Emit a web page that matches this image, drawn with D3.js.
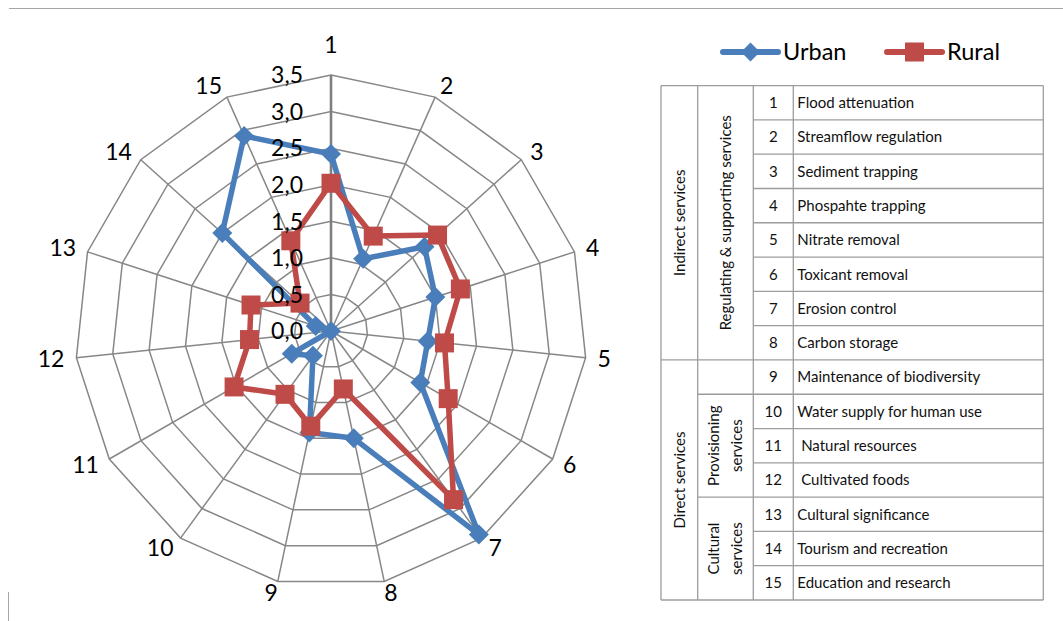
<!DOCTYPE html>
<html>
<head>
<meta charset="utf-8">
<script src="https://cdn.jsdelivr.net/npm/d3@7"></script>
<style>
  html, body { margin: 0; padding: 0; background: #fff; }
  svg { display: block; font-family: Lato, "Open Sans", "DejaVu Sans", sans-serif; }
</style>
</head>
<body>
<svg id="chart" width="1063" height="621"></svg>
<script>
// Ecosystem service numbers (spokes of the radar)
const categories = ["1","2","3","4","5","6","7","8","9","10","11","12","13","14","15"];

// Mean scores per service
const urban = [2.42, 1.08, 1.72, 1.50, 1.33, 1.41, 3.44, 1.50, 1.42, 0.42, 0.62, 0.00, 0.22, 2.00, 2.92];
const rural = [2.02, 1.42, 1.96, 1.86, 1.56, 1.85, 2.85, 0.81, 1.33, 1.07, 1.53, 1.12, 1.15, 0.57, 1.35];

// Radial axis ticks
const tickValues = [0, 0.5, 1.0, 1.5, 2.0, 2.5, 3.0, 3.5];

// Service descriptions for the key table
const serviceNames = [
  "Flood attenuation", "Streamflow regulation", "Sediment trapping", "Phospahte trapping",
  "Nitrate removal", "Toxicant removal", "Erosion control", "Carbon storage",
  "Maintenance of biodiversity", "Water supply for human use", " Natural resources",
  " Cultivated foods", "Cultural significance", "Tourism and recreation", "Education and research"
];

// Service groupings (row ranges, 1-based, inclusive)
const serviceTypes = [
  { lines: ["Indirect services"], from: 1, to: 8 },
  { lines: ["Direct services"], from: 9, to: 15 }
];
const serviceClasses = [
  { lines: ["Regulating & supporting services"], from: 1, to: 8 },
  { lines: [], from: 9, to: 9 },
  { lines: ["Provisioning", "services"], from: 10, to: 12 },
  { lines: ["Cultural", "services"], from: 13, to: 15 }
];

const seriesList = [
  { name: "Urban", values: urban, color: "#4A7EBB", marker: "diamond" },
  { name: "Rural", values: rural, color: "#BE4B48", marker: "square" }
];

const svg = d3.select("#chart");
const W = 1063, H = 621;

// frame line of the chart area
svg.append("line").attr("x1", 9).attr("x2", W).attr("y1", 8.5).attr("y2", 8.5)
  .attr("stroke", "#a6a6a6").attr("stroke-width", 1);
svg.append("line").attr("x1", 8.5).attr("x2", 8.5).attr("y1", 592).attr("y2", H)
  .attr("stroke", "#a6a6a6").attr("stroke-width", 1);

// ---------- Radar ----------
const cx = 331, cy = 331, R = 256;
const rScale = d3.scaleLinear().domain([0, 3.5]).range([0, R]);
const aScale = d3.scaleLinear().domain([0, categories.length]).range([0, 2 * Math.PI]);
const commaLocale = d3.formatLocale({ decimal: ",", thousands: ".", grouping: [3], currency: ["", ""] });
const fmt = commaLocale.format(".1f");

const radar = svg.append("g").attr("transform", `translate(${cx},${cy})`);
const pt = (i, v) => {
  const a = aScale(i);
  return [Math.sin(a) * rScale(v), -Math.cos(a) * rScale(v)];
};

// rings
const ring = d3.lineRadial().angle((d, i) => aScale(i)).curve(d3.curveLinearClosed);
radar.selectAll(".ring").data(tickValues.filter(t => t > 0)).join("path")
  .attr("class", "ring")
  .attr("d", t => ring.radius(rScale(t))(categories))
  .attr("fill", "none").attr("stroke", "#878787").attr("stroke-width", 1.5);

// spokes
radar.selectAll(".spoke").data(categories).join("line")
  .attr("class", "spoke")
  .attr("x1", 0).attr("y1", 0)
  .attr("x2", (d, i) => pt(i, 3.5)[0]).attr("y2", (d, i) => pt(i, 3.5)[1])
  .attr("stroke", (d, i) => i === 0 ? "#7f7f7f" : "#878787")
  .attr("stroke-width", (d, i) => i === 0 ? 2.6 : 1.5);

// series
const seriesLine = d3.lineRadial()
  .angle((d, i) => aScale(i))
  .radius(d => rScale(d))
  .curve(d3.curveLinearClosed);

const diamond = s => `M0,${-s}L${s},0L0,${s}L${-s},0Z`;
const square = s => `M${-s},${-s}H${s}V${s}H${-s}Z`;

seriesList.forEach(s => {
  const g = radar.append("g");
  g.append("path").attr("d", seriesLine(s.values))
    .attr("fill", "none").attr("stroke", s.color)
    .attr("stroke-width", 5.5).attr("stroke-linejoin", "round");
  g.selectAll(".m").data(s.values).join("path")
    .attr("transform", (d, i) => `translate(${pt(i, d)[0]},${pt(i, d)[1]})`)
    .attr("d", s.marker === "diamond" ? diamond(10) : square(9.5))
    .attr("fill", s.color);
});

// tick labels along spoke 1
radar.selectAll(".tick").data(tickValues).join("text")
  .attr("class", "tick")
  .attr("x", -28).attr("y", t => -rScale(t))
  .attr("dy", "0.36em")
  .attr("text-anchor", "end")
  .attr("font-size", 23)
  .attr("fill", "#000")
  .text(t => fmt(t));

// category labels
radar.selectAll(".cat").data(categories).join("text")
  .attr("class", "cat")
  .attr("font-size", 23).attr("fill", "#000")
  .attr("text-anchor", "middle")
  .attr("dy", "0.36em")
  .text(d => d)
  .each(function (d, i) {
    const a = aScale(i), sn = Math.sin(a), cs = Math.cos(a);
    const [vx, vy] = pt(i, 3.5);
    const w = this.getComputedTextLength();
    const dx = 12 * sn + (w / 2) * Math.max(-1, Math.min(1, sn * 3));
    const dy = -12 * cs - (Math.abs(sn) < 0.1 ? 18 : 0);
    d3.select(this).attr("x", vx + dx).attr("y", vy + dy);
  });

// ---------- Legend ----------
const legend = svg.append("g");
const legendX = [723, 887];
seriesList.forEach((s, k) => {
  const g = legend.append("g").attr("transform", `translate(${legendX[k]},52)`);
  g.append("line").attr("x1", 0).attr("x2", 55).attr("y1", 0).attr("y2", 0)
    .attr("stroke", s.color).attr("stroke-width", 6).attr("stroke-linecap", "round");
  g.append("path").attr("transform", "translate(27.5,0)")
    .attr("d", s.marker === "diamond" ? diamond(9.5) : square(9.5))
    .attr("fill", s.color);
  g.append("text").attr("x", 60).attr("y", 0).attr("dy", "0.36em")
    .attr("font-size", 23.5).attr("fill", "#000").text(s.name);
});

// ---------- Key table ----------
const colX = [661, 697.7, 753.3, 793.3, 1043.3];
const rowY = d3.scaleLinear().domain([0, serviceNames.length]).range([85.6, 600]);
const table = svg.append("g");
const gridColor = "#9c9c9c";

// verticals
table.selectAll(".v").data(colX).join("line")
  .attr("x1", d => d).attr("x2", d => d)
  .attr("y1", rowY(0)).attr("y2", rowY(serviceNames.length))
  .attr("stroke", gridColor).attr("stroke-width", 1.3);

// horizontal lines: start column depends on which group boundary it is
const hLines = d3.range(0, serviceNames.length + 1).map(k => {
  let x0 = colX[2];
  if (k === 0 || k === serviceNames.length) x0 = colX[0];
  else if (serviceTypes.some(g => g.from - 1 === k)) x0 = colX[0];
  else if (serviceClasses.some(g => g.from - 1 === k)) x0 = colX[1];
  return { k, x0 };
});
table.selectAll(".h").data(hLines).join("line")
  .attr("x1", d => d.x0).attr("x2", colX[4])
  .attr("y1", d => rowY(d.k)).attr("y2", d => rowY(d.k))
  .attr("stroke", gridColor).attr("stroke-width", 1.3);

// row numbers and names
const rowMid = i => (rowY(i) + rowY(i + 1)) / 2;
table.selectAll(".num").data(categories).join("text")
  .attr("x", (colX[2] + colX[3]) / 2).attr("y", (d, i) => rowMid(i))
  .attr("dy", "0.36em").attr("text-anchor", "middle")
  .attr("font-size", 15).attr("fill", "#111").text(d => d);
table.selectAll(".name").data(serviceNames).join("text")
  .attr("x", colX[3] + 4).attr("y", (d, i) => rowMid(i))
  .attr("dy", "0.36em").style("white-space", "pre")
  .attr("font-size", 15).attr("fill", "#111").text(d => d);

// rotated group labels
function groupLabels(groups, x0, x1) {
  groups.forEach(g => {
    const yc = (rowY(g.from - 1) + rowY(g.to)) / 2;
    const xc = (x0 + x1) / 2;
    const n = g.lines.length;
    g.lines.forEach((line, j) => {
      const off = (j - (n - 1) / 2) * 23;
      table.append("text")
        .attr("transform", `translate(${xc + off},${yc}) rotate(-90)`)
        .attr("text-anchor", "middle").attr("dy", "0.36em")
        .attr("font-size", 15).attr("fill", "#111").text(line);
    });
  });
}
groupLabels(serviceTypes, colX[0], colX[1]);
groupLabels(serviceClasses, colX[1], colX[2]);
</script>
</body>
</html>
